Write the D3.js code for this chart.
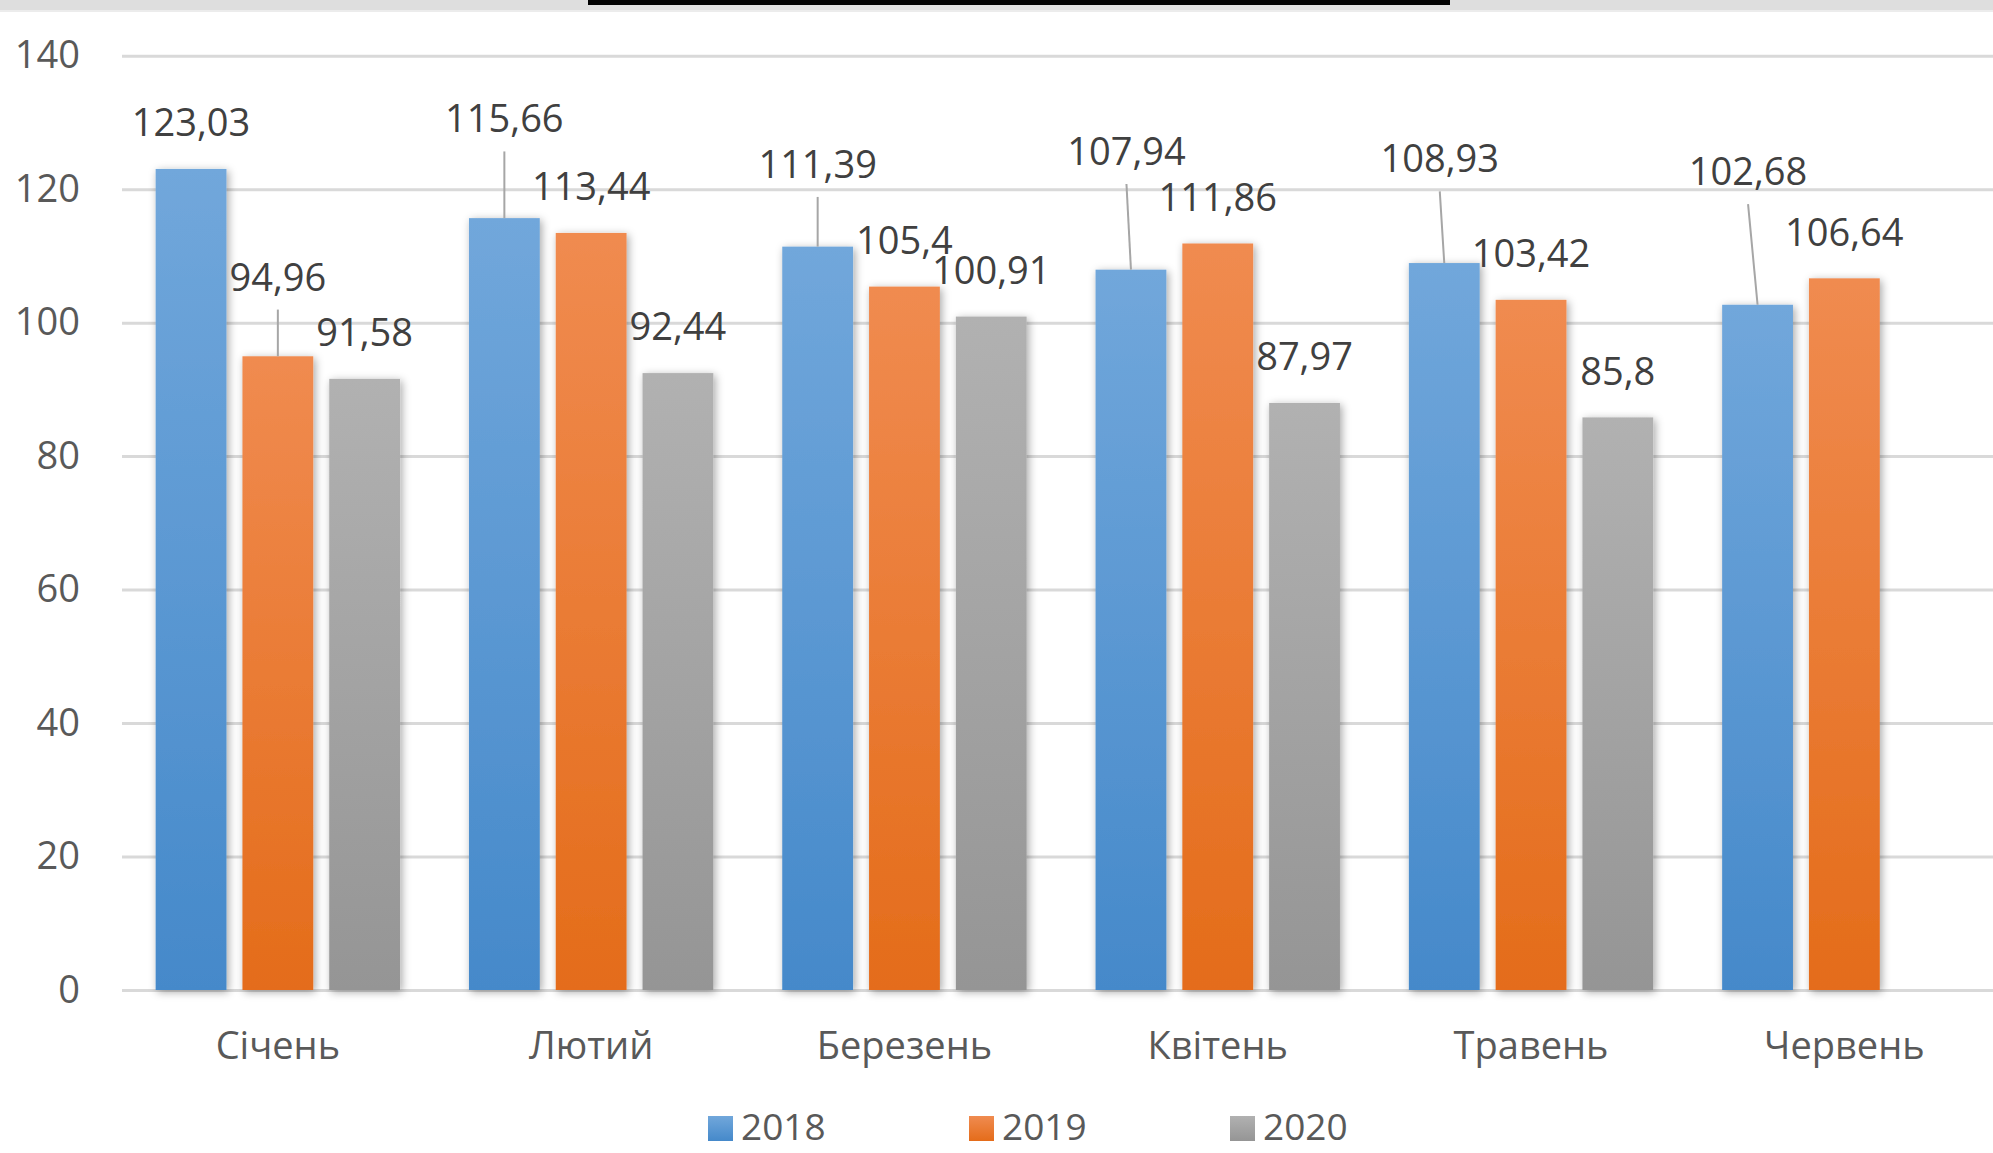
<!DOCTYPE html>
<html>
<head>
<meta charset="utf-8">
<script src="https://cdn.jsdelivr.net/npm/d3@7"></script>
<style>
  body { margin: 0; background: #fff; }
  svg { display: block; font-family: "Open Sans", "Noto Sans", sans-serif; }
</style>
</head>
<body>
<svg id="chart" width="1993" height="1153"></svg>
<script>
// data
const months = ['Січень', 'Лютий', 'Березень', 'Квітень', 'Травень', 'Червень'];
const years = ['2018', '2019', '2020'];
const values2018 = [123.03, 115.66, 111.39, 107.94, 108.93, 102.68];
const values2019 = [94.96, 113.44, 105.4, 111.86, 103.42, 106.64];
const values2020 = [91.58, 92.44, 100.91, 87.97, 85.8, null];
const yTicks = [0, 20, 40, 60, 80, 100, 120, 140];

// labels that were dragged up in the original (extra lift / sideways shift, px)
const labelLift = {
  '2018': [0, 53, 36, 72, 58, 87],
  '2019': [33, 0, 0, 0, 0, 0],
  '2020': [0, 0, 0, 0, 0, 0]
};
const labelShift = {
  '2018': [0, 0, 0, -4.5, -4.5, -9.5],
  '2019': [0, 0, 0, 0, 0, 0],
  '2020': [0, 0, 0, 0, 0, 0]
};

const seriesValues = {'2018': values2018, '2019': values2019, '2020': values2020};
const gradStops = {
  '2018': ['#71a7db', '#4589ca'],
  '2019': ['#f08b50', '#e46c1a'],
  '2020': ['#b1b1b1', '#959595']
};

const svg = d3.select('#chart');
const W = 1993;

// top decoration strip
svg.append('rect').attr('x', 0).attr('y', 0).attr('width', W).attr('height', 10).attr('fill', '#dedede');
svg.append('rect').attr('x', 0).attr('y', 10).attr('width', W).attr('height', 2).attr('fill', '#ececec');
svg.append('rect').attr('x', 588).attr('y', 0).attr('width', 862).attr('height', 5).attr('fill', '#000');

const defs = svg.append('defs');
years.forEach(yr => {
  const g = defs.append('linearGradient').attr('id', 'grad' + yr)
    .attr('x1', 0).attr('y1', 0).attr('x2', 0).attr('y2', 1);
  g.append('stop').attr('offset', '0%').attr('stop-color', gradStops[yr][0]);
  g.append('stop').attr('offset', '100%').attr('stop-color', gradStops[yr][1]);
});
const shadow = defs.append('filter').attr('id', 'shadow')
  .attr('x', '-30%').attr('y', '-10%').attr('width', '160%').attr('height', '120%');
shadow.append('feDropShadow').attr('dx', 2).attr('dy', 2).attr('stdDeviation', 4)
  .attr('flood-color', '#000').attr('flood-opacity', 0.35);

const x0 = d3.scaleBand().domain(months).range([121.2, 121.2 + 6 * 313.3]);
const groupPad = 34.45;
const x1 = d3.scaleBand().domain(years)
  .range([groupPad, x0.bandwidth() - groupPad]).paddingInner(0.184);
const y = d3.scaleLinear().domain([0, 140]).range([990, 55.7]);

// y axis with gridlines
const yAxis = d3.axisLeft(y).tickValues(yTicks)
  .tickSize(-(W - 122)).tickPadding(42).tickFormat(d3.format('d'));
const yg = svg.append('g').attr('transform', 'translate(122,0)').call(yAxis);
yg.select('.domain').remove();
yg.selectAll('.tick line').attr('stroke', '#d9d9d9').attr('stroke-width', 3);
yg.selectAll('.tick text').attr('fill', '#595959').attr('font-size', 38)
  .attr('font-family', '"Open Sans", sans-serif');

// x axis labels
const xAxis = d3.axisBottom(x0).tickSize(0).tickPadding(42);
const xg = svg.append('g').attr('transform', 'translate(0,990)').call(xAxis);
xg.select('.domain').remove();
xg.selectAll('.tick text').attr('fill', '#595959').attr('font-size', 38)
  .attr('font-family', '"Open Sans", sans-serif');

// bars
const rows = [];
years.forEach(yr => {
  months.forEach((m, i) => {
    const v = seriesValues[yr][i];
    if (v != null) rows.push({year: yr, month: m, i: i, value: v});
  });
});

const bars = svg.append('g');
bars.selectAll('rect').data(rows).enter().append('rect')
  .attr('x', d => x0(d.month) + x1(d.year))
  .attr('y', d => y(d.value))
  .attr('width', x1.bandwidth())
  .attr('height', d => y(0) - y(d.value))
  .attr('fill', d => 'url(#grad' + d.year + ')')
  .attr('filter', 'url(#shadow)');

// data labels + leader lines
const labels = svg.append('g');
const baseGap = 32.7;
rows.forEach(d => {
  const cx = x0(d.month) + x1(d.year) + x1.bandwidth() / 2;
  const top = y(d.value);
  const lift = labelLift[d.year][d.i];
  const lx = cx + labelShift[d.year][d.i];
  const base = top - baseGap - lift;
  if (lift > 0) {
    labels.append('line')
      .attr('x1', lx).attr('y1', base + 19)
      .attr('x2', cx).attr('y2', top)
      .attr('stroke', '#a6a6a6').attr('stroke-width', 2);
  }
  labels.append('text')
    .attr('x', lx).attr('y', base)
    .attr('text-anchor', 'middle')
    .attr('font-size', 38)
    .attr('fill', '#404040')
    .text(String(d.value).replace('.', ','));
});

// legend
const legend = svg.append('g');
const legendX = [708, 969, 1230];
years.forEach((yr, k) => {
  const g = legend.append('g').attr('transform', `translate(${legendX[k]},0)`);
  g.append('rect').attr('x', 0).attr('y', 1116).attr('width', 25).attr('height', 25)
    .attr('fill', 'url(#grad' + yr + ')');
  g.append('text').attr('x', 33).attr('y', 1140)
    .attr('font-size', 37).attr('fill', '#595959').text(yr);
});
</script>
</body>
</html>
